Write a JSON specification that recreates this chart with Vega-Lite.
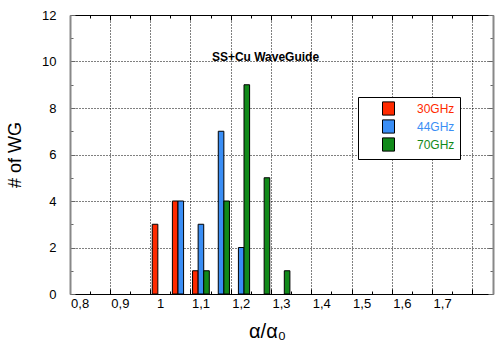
{
  "$schema": "https://vega.github.io/schema/vega-lite/v6.json",
  "width": 423,
  "height": 279,
  "autosize": {"type": "none"},
  "padding": {"left": 70, "top": 15, "right": 5, "bottom": 60},
  "background": "white",
  "config": {
    "view": {"stroke": null},
    "font": "Liberation Sans",
    "axis": {"labelColor": "black", "titleColor": "black", "labelFont": "Liberation Sans", "titleFont": "Liberation Sans"}
  },
  "title": {
    "text": "SS+Cu WaveGuide",
    "anchor": "middle",
    "frame": "group",
    "fontSize": 12,
    "fontWeight": "bold",
    "color": "black",
    "offset": 0,
    "baseline": "alphabetic",
    "dx": -16,
    "dy": 64
  },
  "data": {
    "values": [
      {"bin": 1, "series": "30GHz", "count": 3},
      {"bin": 1.05, "series": "30GHz", "count": 4},
      {"bin": 1.05, "series": "44GHz", "count": 4},
      {"bin": 1.1, "series": "30GHz", "count": 1},
      {"bin": 1.1, "series": "44GHz", "count": 3},
      {"bin": 1.1, "series": "70GHz", "count": 1},
      {"bin": 1.15, "series": "44GHz", "count": 7},
      {"bin": 1.15, "series": "70GHz", "count": 4},
      {"bin": 1.2, "series": "44GHz", "count": 2},
      {"bin": 1.2, "series": "70GHz", "count": 9},
      {"bin": 1.25, "series": "70GHz", "count": 5},
      {"bin": 1.3, "series": "70GHz", "count": 1}
    ]
  },
  "layer": [
    {
      "mark": {"type": "bar", "opacity": 0},
      "encoding": {
        "x": {
          "field": "bin", "type": "ordinal",
          "scale": {"domain": [0.8,0.85,0.9,0.95,1,1.05,1.1,1.15,1.2,1.25,1.3,1.35,1.4,1.45,1.5,1.55,1.6,1.65,1.7,1.75,1.8], "paddingInner": 0, "paddingOuter": 0},
          "axis": {
            "orient": "bottom",
            "values": [0.8,0.9,1,1.1,1.2,1.3,1.4,1.5,1.6,1.7],
            "ticks": false,
            "grid": false,
            "labelExpr": "replace(datum.label, '.', ',')",
            "labelAngle": 0,
            "labelFontSize": 13,
            "labelPadding": 3,
            "domainColor": "black",
            "domainWidth": 1,
            "title": "α/α₀",
            "titleFontSize": 20,
            "titleFontWeight": "normal",
            "titlePadding": 11,
            "titleX": 197
          }
        },
        "xOffset": {"field": "series", "type": "nominal", "scale": {"domain": ["30GHz", "44GHz", "70GHz"], "paddingInner": 0, "paddingOuter": 0.3}},
        "y": {
          "field": "count", "type": "quantitative",
          "scale": {"domain": [0, 12], "nice": false},
          "axis": {
            "orient": "left",
            "values": [0,1,2,3,4,5,6,7,8,9,10,11,12],
            "labelExpr": "datum.value % 2 == 0 ? datum.label : ''",
            "labelFontSize": 13,
            "labelPadding": 19,
            "tickSize": {"condition": {"test": "datum.value % 2 == 0", "value": -5}, "value": -3},
            "tickColor": "#666",
            "domainColor": "#888",
            "domainWidth": 2,
            "grid": true,
            "gridColor": "black",
            "gridDash": [1, 2],
            "gridOpacity": {"condition": {"test": "datum.value % 2 == 0 && datum.value > 0 && datum.value < 12", "value": 1}, "value": 0},
            "title": "# of WG",
            "titleFontSize": 18,
            "titleFontWeight": "normal",
            "titlePadding": 17
          }
        }
      }
    },
    {
      "mark": {"type": "bar", "stroke": "black", "strokeWidth": 1},
      "encoding": {
        "x": {
          "field": "bin", "type": "ordinal",
          "axis": {
            "orient": "bottom",
            "values": [0.85,0.9,0.95,1,1.05,1.1,1.15,1.2,1.25,1.3,1.35,1.4,1.45,1.5,1.55,1.6,1.65,1.7,1.75,1.8],
            "bandPosition": 0,
            "labels": false,
            "domain": false,
            "tickColor": "black",
            "tickSize": {"condition": {"test": "round(datum.value * 20) % 2 == 0", "value": -5}, "value": -3},
            "grid": true,
            "gridColor": "black",
            "gridDash": [1, 2],
            "gridOpacity": {"condition": {"test": "round(datum.value * 20) % 2 == 0", "value": 1}, "value": 0},
            "title": null
          }
        },
        "xOffset": {"field": "series", "type": "nominal"},
        "y": {
          "field": "count", "type": "quantitative",
          "axis": {
            "orient": "right",
            "values": [0,1,2,3,4,5,6,7,8,9,10,11,12],
            "labels": false,
            "grid": false,
            "tickColor": "#666",
            "tickSize": {"condition": {"test": "datum.value % 2 == 0", "value": -5}, "value": -3},
            "domainColor": "#888",
            "domainWidth": 2,
            "title": null
          }
        },
        "color": {
          "field": "series", "type": "nominal",
          "scale": {"domain": ["30GHz", "44GHz", "70GHz"], "range": ["#ff2a00", "#3a8ef5", "#118a1a"]},
          "legend": {
            "orient": "none",
            "legendX": 288,
            "legendY": 82,
            "title": null,
            "fillColor": "white",
            "strokeColor": "black",
            "padding": 5,
            "symbolType": "M-1,-1.1H1V1.1H-1Z",
            "symbolSize": 144,
            "symbolStrokeColor": "black",
            "symbolStrokeWidth": 1,
            "symbolOffset": 19,
            "labelOffset": 22,
            "labelFontSize": 12,
            "rowPadding": -1,
            "encode": {"labels": {"update": {"fill": {"scale": "color", "field": "value"}}}}
          }
        }
      }
    },
    {
      "mark": {"type": "bar", "opacity": 0},
      "encoding": {
        "x": {
          "field": "bin", "type": "ordinal",
          "axis": {
            "orient": "top",
            "values": [0.85,0.9,0.95,1,1.05,1.1,1.15,1.2,1.25,1.3,1.35,1.4,1.45,1.5,1.55,1.6,1.65,1.7,1.75,1.8],
            "bandPosition": 0,
            "labels": false,
            "domainColor": "black",
            "tickColor": "black",
            "tickSize": {"condition": {"test": "round(datum.value * 20) % 2 == 0", "value": -5}, "value": -3},
            "grid": false,
            "title": null
          }
        },
        "xOffset": {"field": "series", "type": "nominal"},
        "y": {"field": "count", "type": "quantitative", "axis": null}
      }
    }
  ],
  "resolve": {"axis": {"x": "independent", "y": "independent"}}
}
